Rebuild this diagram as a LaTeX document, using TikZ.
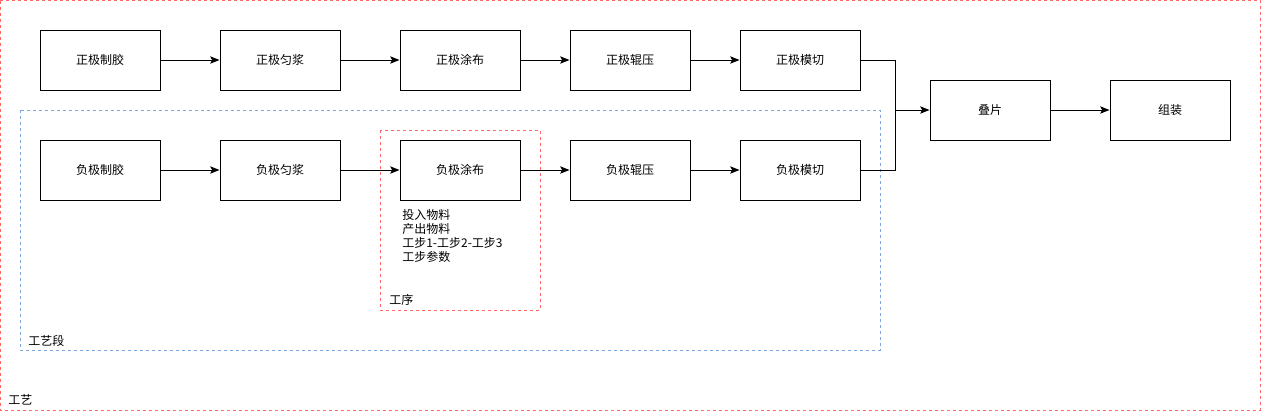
\documentclass[tikz,border=0pt]{standalone}
\usepackage{fontspec}
\setmainfont{Noto Sans CJK SC}
\usetikzlibrary{arrows.meta}
\definecolor{redd}{HTML}{FF6666}
\definecolor{blued}{HTML}{7EA6E0}
\tikzset{
  px/.style={x=0.75pt,y=-0.75pt},
  procbox/.style={draw=black,line width=0.75pt,minimum width=90pt,minimum height=45pt,inner sep=0pt,font=\fontsize{9pt}{11pt}\selectfont},
  conn/.style={draw=black,line width=0.75pt,-{Stealth[length=7pt,width=5.5pt,inset=1.5pt]}},
  line/.style={draw=black,line width=0.75pt},
  reddash/.style={draw=redd,line width=0.75pt,dash pattern=on 2.25pt off 2.25pt},
  bluedash/.style={draw=blued,line width=0.75pt,dash pattern=on 2.25pt off 2.25pt},
  lbl/.style={font=\fontsize{9pt}{10.5pt}\selectfont,inner sep=0pt,anchor=west},
}
\begin{document}
\begin{tikzpicture}[px]
\useasboundingbox (0,0) rectangle (1261,412);
% containers
\draw[reddash] (0.5,0.5) rectangle (1260,410);
\draw[bluedash] (20,110) rectangle (880,350);
\draw[reddash] (380,130) rectangle (540,310);
% boxes
\node[procbox] (p1) at (100,60) {正极制胶};
\node[procbox] (p2) at (280,60) {正极匀浆};
\node[procbox] (p3) at (460,60) {正极涂布};
\node[procbox] (p4) at (630,60) {正极辊压};
\node[procbox] (p5) at (800,60) {正极模切};
\node[procbox] (n1) at (100,170) {负极制胶};
\node[procbox] (n2) at (280,170) {负极匀浆};
\node[procbox] (n3) at (460,170) {负极涂布};
\node[procbox] (n4) at (630,170) {负极辊压};
\node[procbox] (n5) at (800,170) {负极模切};
\node[procbox] (s) at (990,110) {叠片};
\node[procbox] (a) at (1170,110) {组装};
% connectors
\draw[conn] (p1) -- (p2);
\draw[conn] (p2) -- (p3);
\draw[conn] (p3) -- (p4);
\draw[conn] (p4) -- (p5);
\draw[conn] (n1) -- (n2);
\draw[conn] (n2) -- (n3);
\draw[conn] (n3) -- (n4);
\draw[conn] (n4) -- (n5);
\coordinate (j) at (895,110);
\draw[line] (p5.east) -| (j);
\draw[line] (n5.east) -| (j);
\draw[conn] (j) -- (s.west);
\draw[conn] (s) -- (a);
% labels
\node[lbl,anchor=north west,align=left,font=\fontsize{9pt}{10.5pt}\selectfont] (info) at (402,209) {投入物料\\产出物料\\工步1-工步2-工步3\\工步参数};
\node[lbl] (gx) at (389,300) {工序};
\node[lbl] (gyd) at (28,341) {工艺段};
\node[lbl] (gy) at (8,400) {工艺};
\end{tikzpicture}
\end{document}
